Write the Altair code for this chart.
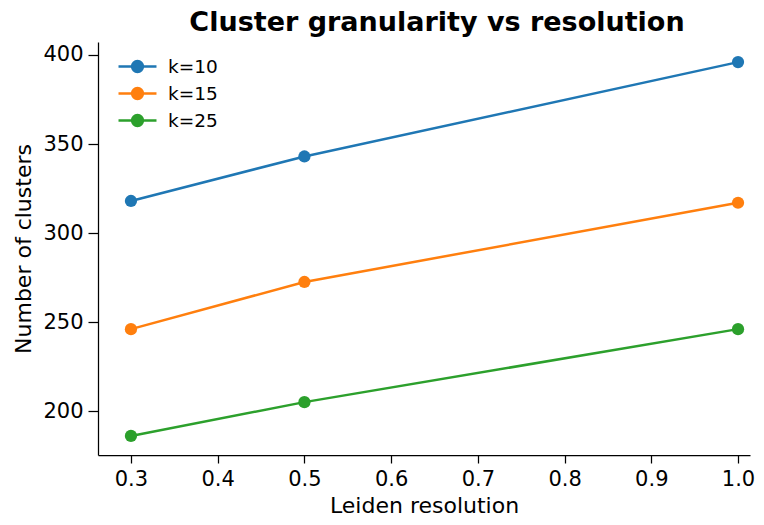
import altair as alt
import pandas as pd

resolution = [0.3, 0.5, 1.0]
series_names = ["k=10", "k=15", "k=25"]
k10 = [318, 343, 396]
k15 = [246, 272.5, 317]
k25 = [186, 205, 246]
colors = ["#1f77b4", "#ff7f0e", "#2ca02c"]
x_ticks = [0.3, 0.4, 0.5, 0.6, 0.7, 0.8, 0.9, 1.0]
y_ticks = [200, 250, 300, 350, 400]

rows = []
for name, vals in zip(series_names, [k10, k15, k25]):
    for r, v in zip(resolution, vals):
        rows.append({"res": r, "n": v, "k": name})
df = pd.DataFrame(rows)

FONT = "DejaVu Sans"

x = alt.X("res:Q", scale=alt.Scale(domain=[0.262, 1.0138], nice=False, zero=False),
          axis=alt.Axis(values=x_ticks, format=".1f", title="Leiden resolution",
                        grid=False, tickSize=8, labelPadding=5, titleY=57,
                        titleBaseline="alphabetic"))
y = alt.Y("n:Q", scale=alt.Scale(domain=[175.3, 407.3], nice=False, zero=False),
          axis=alt.Axis(values=y_ticks, title="Number of clusters", grid=False,
                        tickSize=10, labelPadding=5, titleX=-68,
                        titleBaseline="alphabetic"))
color_scale = alt.Scale(domain=series_names, range=colors)


def ring(a):
    return f"M{-a},0A{a},{a},0,1,1,{a},0A{a},{a},0,1,1,{-a},0Z"


legend_symbol = "M-2.11,0H2.11" + ring(0.13) + ring(0.4) + ring(0.6)

legend = alt.Legend(title=None, orient="none", legendX=29, legendY=14,
                    symbolType=legend_symbol, symbolSize=324,
                    symbolStrokeWidth=2.5, labelOffset=20,
                    rowPadding=6, labelFontSize=18.5, labelFont=FONT,
                    labelColor="black", padding=0)

lines = alt.Chart(df).mark_line(strokeWidth=2.5).encode(
    x=x, y=y, color=alt.Color("k:N", scale=color_scale, legend=legend), detail="k:N")

points = alt.Chart(df).mark_circle(size=150, opacity=1).encode(
    x=x, y=y, color=alt.Color("k:N", scale=color_scale, legend=legend))

chart = (lines + points).properties(
    width=652, height=413,
    autosize=alt.AutoSizeParams(type="none"),
    padding={"left": 90, "top": 34, "right": 6, "bottom": 62},
    title=alt.TitleParams("Cluster granularity vs resolution", font=FONT, fontSize=27,
                          fontWeight="bold", color="black", anchor="middle",
                          baseline="alphabetic", offset=-16, dx=13),
).configure_view(stroke=None).configure_axis(
    labelFont=FONT, labelFontSize=21, labelColor="black", titleFont=FONT,
    titleFontSize=22, titleColor="black", titleFontWeight="normal",
    domainColor="black", tickColor="black", domainWidth=1.25, tickWidth=1.25,
)

chart.save("out.html", embed_options={"renderer": "svg", "actions": False})
